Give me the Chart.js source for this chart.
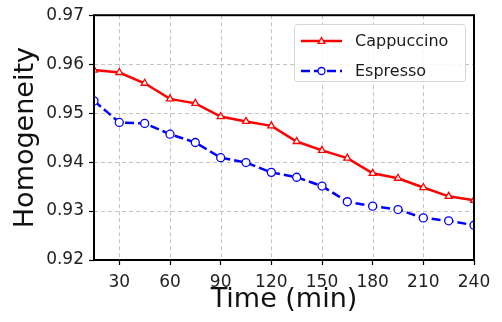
<!DOCTYPE html>
<html>
<head>
<meta charset="utf-8">
<script src="https://cdn.jsdelivr.net/npm/chart.js@4.4.1/dist/chart.umd.min.js"></script>
<style>
html,body{margin:0;padding:0;background:#fff;}
#wrap{width:502px;height:322px;position:relative;}
</style>
</head>
<body>
<div id="wrap"><canvas id="c" width="502" height="322"></canvas></div>
<script>
const times = [15,30,45,60,75,90,105,120,135,150,165,180,195,210,225,240];
const cappuccino = [0.9588,0.9583,0.9561,0.9529,0.9520,0.9493,0.9483,0.9474,0.9442,0.9424,0.9408,0.9377,0.9367,0.9348,0.9330,0.9322];
const espresso = [0.9525,0.9481,0.9479,0.9457,0.9440,0.9409,0.9399,0.9379,0.9369,0.9351,0.9319,0.9310,0.9303,0.9286,0.9280,0.9271];
const xTicks = [30,60,90,120,150,180,210,240];
const yTicks = [0.92,0.93,0.94,0.95,0.96,0.97];
const seriesNames = ['Cappuccino','Espresso'];

const FONT = 'DejaVu Sans';
const RED = '#ff0000';
const BLUE = '#0000ff';

const gridPlugin = {
  id: 'dashGrid',
  beforeDatasetsDraw(chart) {
    const {ctx, chartArea: a, scales} = chart;
    ctx.save();
    ctx.strokeStyle = '#c4c4c4';
    ctx.lineWidth = 1;
    ctx.setLineDash([4, 3]);
    scales.x.ticks.forEach(t => {
      const px = Math.round(scales.x.getPixelForValue(t.value)) + 0.5;
      ctx.beginPath(); ctx.moveTo(px, a.top); ctx.lineTo(px, a.bottom); ctx.stroke();
    });
    scales.y.ticks.forEach(t => {
      const py = Math.round(scales.y.getPixelForValue(t.value)) + 0.5;
      ctx.beginPath(); ctx.moveTo(a.left, py); ctx.lineTo(a.right, py); ctx.stroke();
    });
    ctx.restore();
  }
};

const framePlugin = {
  id: 'frame',
  afterDatasetsDraw(chart) {
    const {ctx, chartArea: a} = chart;
    ctx.save();
    ctx.strokeStyle = '#000';
    ctx.lineWidth = 2;
    ctx.strokeRect(a.left, a.top, a.right - a.left, a.bottom - a.top);
    ctx.restore();
  }
};

function drawMarker(ctx, style, x, y, r, color) {
  ctx.save();
  ctx.strokeStyle = color;
  ctx.fillStyle = '#fff';
  ctx.lineWidth = 1.3;
  ctx.beginPath();
  if (style === 'triangle') {
    ctx.moveTo(x, y - r);
    ctx.lineTo(x + r * 0.95, y + r * 0.7);
    ctx.lineTo(x - r * 0.95, y + r * 0.7);
    ctx.closePath();
  } else {
    ctx.arc(x, y, r, 0, Math.PI * 2);
  }
  ctx.fill();
  ctx.stroke();
  ctx.restore();
}

const legendPlugin = {
  id: 'customLegend',
  afterDraw(chart) {
    const {ctx} = chart;
    const bx = 294, by = 24, bw = 171, bh = 57;
    ctx.save();
    ctx.fillStyle = 'rgba(255,255,255,0.85)';
    ctx.strokeStyle = '#d6d6d6';
    ctx.lineWidth = 1;
    ctx.beginPath();
    ctx.roundRect(bx + 0.5, by + 0.5, bw, bh, 3);
    ctx.fill();
    ctx.stroke();
    const items = [
      {name: seriesNames[0], color: RED, dash: [], style: 'triangle', y: 41},
      {name: seriesNames[1], color: BLUE, dash: [9, 4], style: 'circle', y: 71}
    ];
    items.forEach(it => {
      ctx.save();
      ctx.strokeStyle = it.color;
      ctx.lineWidth = 2.5;
      ctx.setLineDash(it.dash);
      ctx.beginPath();
      ctx.moveTo(301, it.y);
      ctx.lineTo(342, it.y);
      ctx.stroke();
      ctx.restore();
      drawMarker(ctx, it.style, 321.5, it.y, 3.5, it.color);
      ctx.fillStyle = '#1a1a1a';
      ctx.font = '16px "' + FONT + '"';
      ctx.textBaseline = 'middle';
      ctx.textAlign = 'left';
      ctx.fillText(it.name, 355, it.y + 1);
    });
    ctx.restore();
  }
};

new Chart(document.getElementById('c'), {
  type: 'line',
  data: {
    datasets: [
      {
        label: seriesNames[0],
        data: times.map((t, i) => ({x: t, y: cappuccino[i]})),
        borderColor: RED,
        borderWidth: 2.5,
        pointStyle: 'triangle',
        pointRadius: 4,
        pointBorderWidth: 1.3,
        pointBackgroundColor: '#fff',
        pointBorderColor: RED,
        tension: 0,
        fill: false
      },
      {
        label: seriesNames[1],
        data: times.map((t, i) => ({x: t, y: espresso[i]})),
        borderColor: BLUE,
        borderWidth: 2.5,
        borderDash: [9, 4],
        pointStyle: 'circle',
        pointRadius: 4,
        pointBorderWidth: 1.3,
        pointBackgroundColor: '#fff',
        pointBorderColor: BLUE,
        tension: 0,
        fill: false
      }
    ]
  },
  options: {
    responsive: false,
    animation: false,
    devicePixelRatio: 1,
    layout: {padding: {left: 0, top: 14, right: 28, bottom: 0}},
    plugins: {legend: {display: false}, tooltip: {enabled: false}},
    scales: {
      x: {
        type: 'linear',
        min: 15,
        max: 240,
        afterBuildTicks: s => { s.ticks = xTicks.map(v => ({value: v})); },
        afterFit: s => { s.height = 62; },
        grid: {drawOnChartArea: false, color: '#000', tickColor: '#000', tickLength: 5, tickWidth: 1.2},
        border: {display: false},
        ticks: {color: '#222', font: {family: FONT, size: 17}, padding: 7, maxRotation: 0, autoSkip: false},
        title: {display: true, text: 'Time (min)', color: '#111', font: {family: FONT, size: 27}, padding: {top: 0, bottom: 6}}
      },
      y: {
        type: 'linear',
        min: 0.92,
        max: 0.97,
        afterBuildTicks: s => { s.ticks = yTicks.map(v => ({value: v})); },
        afterFit: s => { s.width = 94; },
        grid: {drawOnChartArea: false, color: '#000', tickColor: '#000', tickLength: 5, tickWidth: 1.2},
        border: {display: false},
        ticks: {color: '#222', font: {family: FONT, size: 17}, padding: 5, callback: v => v.toFixed(2), autoSkip: false},
        title: {display: true, text: 'Homogeneity', color: '#111', font: {family: FONT, size: 27}, padding: {top: 10, bottom: 0}}
      }
    }
  },
  plugins: [gridPlugin, framePlugin, legendPlugin]
});
</script>
</body>
</html>
